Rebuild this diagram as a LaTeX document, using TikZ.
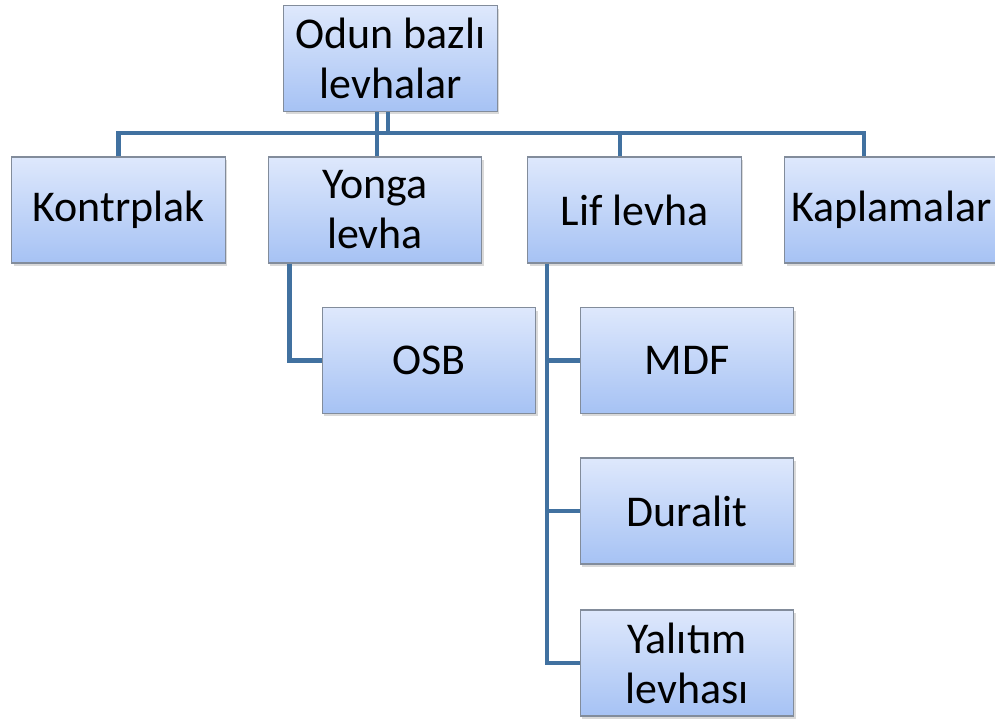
\documentclass[tikz,border=0pt]{standalone}
\usepackage{fontspec}
\setmainfont{Carlito}
\usetikzlibrary{shadows}
\definecolor{linkblue}{RGB}{65,113,160}
\definecolor{boxtop}{RGB}{222,232,252}
\definecolor{boxbottom}{RGB}{166,194,244}
\definecolor{boxedge}{RGB}{130,140,155}

\begin{document}
\begin{tikzpicture}[x=0.02cm, y=-0.02cm,
  box/.style={rectangle, draw=boxedge, line width=0.6pt,
    top color=boxtop, bottom color=boxbottom,
    minimum width=4.27cm, minimum height=2.12cm,
    align=center, inner sep=0pt,
    font=\fontsize{25}{28.5}\selectfont,
    drop shadow={opacity=0.3, shadow xshift=0.04cm, shadow yshift=-0.06cm}},
  link/.style={draw=linkblue, line width=0.09cm}]

  \useasboundingbox (0,0) rectangle (995,720);

  % Level 0
  \node[box] (root) at (390.5,58.5) {Odun bazlı\\levhalar};

  % Level 1
  \node[box] (kontr) at (118.5,210) {Kontrplak};
  \node[box] (yonga) at (375,210) {Yonga\\levha};
  \node[box] (lif) at (634.5,210) {Lif levha};
  \node[box] (kapl) at (891.5,210) {Kaplamalar};

  % Level 2
  \node[box] (osb) at (429,360.5) {OSB};
  \node[box] (mdf) at (687,360.5) {MDF};
  \node[box] (duralit) at (687,511) {Duralit};
  \node[box] (yalitim) at (687,663) {Yalıtım\\levhası};

  % Connectors
  \coordinate (bus) at (0,133);
  \draw[link] (kontr.north) -- (kontr.north |- bus)
    -- ([xshift=-0.55cm]kapl.north |- bus) -- ([xshift=-0.55cm]kapl.north);
  \draw[link] ([xshift=0.04cm]root.south -| yonga.north) -- ([xshift=0.04cm]yonga.north);
  \draw[link] ([xshift=0.26cm]root.south -| yonga.north) -- ([xshift=0.26cm]bus -| yonga.north);
  \draw[link] ([xshift=-0.29cm]lif.north |- bus) -- ([xshift=-0.29cm]lif.north);

  \draw[link] ([xshift=0.44cm]yonga.south west) |- (osb.west);
  \draw[link] ([xshift=0.4cm]lif.south west) |- (yalitim.west);
  \foreach \n in {mdf, duralit}
    \draw[link] ([xshift=0.4cm]lif.south west |- \n.west) -- (\n.west);

\end{tikzpicture}
\end{document}
